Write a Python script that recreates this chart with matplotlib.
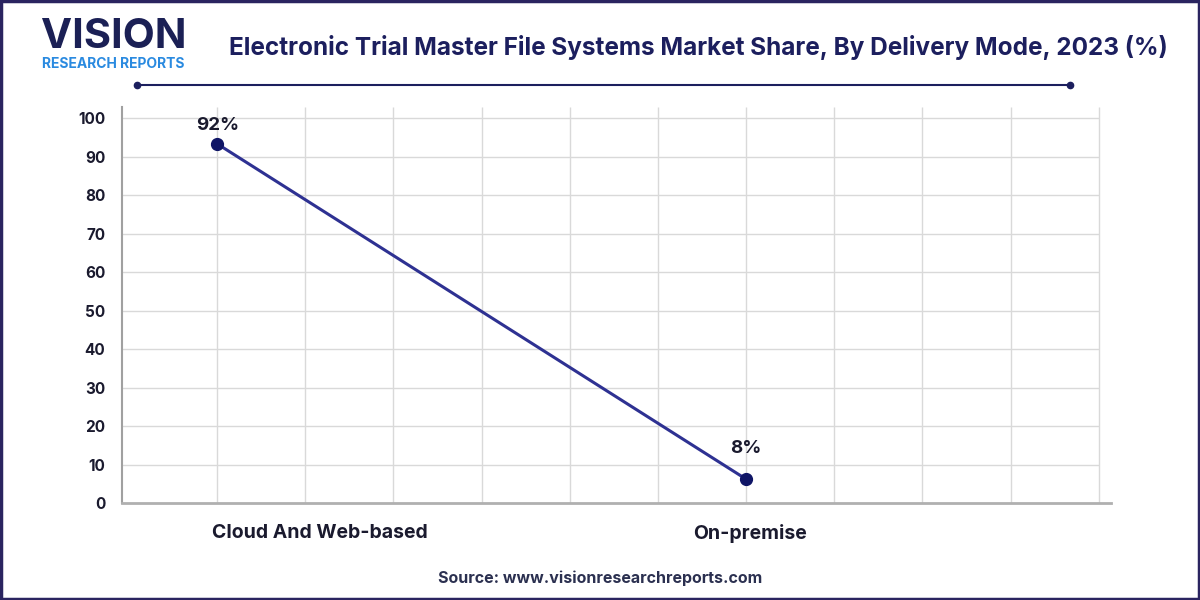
import matplotlib.pyplot as plt
from matplotlib.patches import Rectangle

# data
categories = ['Cloud And Web-based', 'On-premise']
values = [93.3, 6.2]
labels = ['92%', '8%']
yticks = [0, 10, 20, 30, 40, 50, 60, 70, 80, 90, 100]
xgrid = [i / 6 for i in range(11)]
# category labels sit a bit right of the points in the original
label_pos = [0.195, 1.008]
label_offsets = [7, 16]

NAVY = '#1c1f5e'
LINE = '#2e3192'
MARK = '#0f1566'
GRID = '#d9d9d9'

plt.rcParams['font.family'] = ['Inter', 'DejaVu Sans']

fig = plt.figure(figsize=(12, 6), dpi=100)
fig.patch.set_facecolor('white')

# outer frame
fig.add_artist(Rectangle((0.001, 0.002), 0.998, 0.996, transform=fig.transFigure,
                         fill=False, edgecolor='#2a2460', linewidth=2.5))

# logo
fig.text(41 / 1200, 1 - 37 / 600, 'VISION', fontsize=30, fontweight='bold',
         color='#1b2055', va='center', ha='left')
fig.text(42 / 1200, 1 - 64 / 600, 'RESEARCH REPORTS', fontsize=10, fontweight='bold',
         color='#2a8ae0', va='center', ha='left')

# title
fig.text(698 / 1200, 1 - 47 / 600,
         'Electronic Trial Master File Systems Market Share, By Delivery Mode, 2023 (%)',
         fontsize=17.5, fontweight='bold', color=NAVY, ha='center', va='center')

# decorative rule under title
fig.add_artist(plt.Line2D([137 / 1200, 1070 / 1200], [1 - 85 / 600, 1 - 85 / 600],
                          transform=fig.transFigure, color=NAVY, linewidth=1.5))
fig.add_artist(plt.Line2D([137 / 1200, 1070 / 1200], [1 - 85 / 600, 1 - 85 / 600],
                          transform=fig.transFigure, color=NAVY, linestyle='none',
                          marker='o', markersize=4.5))

ax = fig.add_axes([122 / 1200, 97 / 600, 989 / 1200, 396.5 / 600])
ax.set_xlim(-0.18, 1.69)
ax.set_ylim(0, 103)

# grid
ax.hlines(yticks[1:], -0.18, 10 / 6, color=GRID, linewidth=1, zorder=0)
ax.vlines(xgrid, 0, 103, color=GRID, linewidth=1, zorder=0)

x = list(range(len(categories)))
ax.plot(x, values, color=LINE, linewidth=2.2, zorder=3)
ax.plot(x, values, linestyle='none', marker='o', markersize=8.5, color=MARK, zorder=4)
for xi, v, lab, off in zip(x, values, labels, label_offsets):
    ax.annotate(lab, (xi, v), xytext=(0, off), textcoords='offset points',
                ha='center', va='bottom', fontsize=13.5, fontweight='bold', color='#1a1a2e')

ax.set_yticks(yticks)
ax.set_xticks(label_pos)
ax.set_xticklabels(categories)
for t in ax.get_yticklabels():
    t.set_fontweight('bold')
    t.set_fontsize(11)
    t.set_color('#1a1a2e')
for t in ax.get_xticklabels():
    t.set_fontweight('bold')
    t.set_fontsize(14)
    t.set_color('#1a1a2e')
ax.tick_params(axis='both', length=0)
ax.tick_params(axis='y', pad=12)
ax.tick_params(axis='x', pad=15)

for s in ['top', 'right']:
    ax.spines[s].set_visible(False)
ax.spines['left'].set_color('#a0a0a0')
ax.spines['left'].set_linewidth(1.5)
ax.spines['bottom'].set_color('#b0b0b0')
ax.spines['bottom'].set_linewidth(2)

# source
fig.text(600 / 1200, 1 - 578 / 600, 'Source: www.visionresearchreports.com',
         fontsize=11.5, fontweight='bold', color='#2b3050', ha='center', va='center')

fig.savefig('out.png', dpi=100, facecolor='white')
